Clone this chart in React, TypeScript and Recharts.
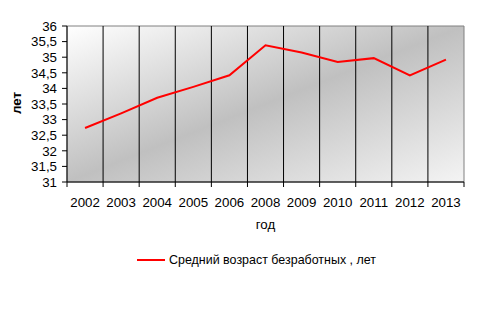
import React from 'react';
import { LineChart, Line, XAxis, YAxis, ReferenceArea, ReferenceLine, Legend } from 'recharts';

// годы (2007 в исходной таблице нет)
const years = ['2002', '2003', '2004', '2005', '2006', '2008', '2009', '2010', '2011', '2012', '2013'];
// средний возраст безработных, лет
const avgAge = [32.73, 33.2, 33.7, 34.05, 34.42, 35.38, 35.15, 34.85, 34.97, 34.42, 34.92];
const yTicks = [31, 31.5, 32, 32.5, 33, 33.5, 34, 34.5, 35, 35.5, 36];
const seriesName = 'Средний возраст безработных , лет';

const FONT = '"Liberation Sans", Arial, sans-serif';

const data = years.map((year, i) => ({ pos: i + 0.5, year, age: avgAge[i] }));
// half steps: integers carry tick marks, halves carry the year labels
const xTicks = Array.from({ length: years.length * 2 + 1 }, (_, i) => i / 2);
const boundaries = Array.from({ length: years.length - 1 }, (_, i) => i + 1);

const XTick = (props: any) => {
    const { x, y, payload } = props;
    const v = payload.value;
    if (Number.isInteger(v)) {
        return <line x1={x} x2={x} y1={y - 5} y2={y} stroke="#000" />;
    }
    return (
        <text x={x} y={y + 20} textAnchor="middle" fontSize={13.3} fontFamily={FONT} fill="#000">
            {years[Math.floor(v)]}
        </text>
    );
};

const YTitle = (props: any) => {
    const { viewBox } = props;
    const cx = viewBox.x + 16;
    const cy = viewBox.y + viewBox.height / 2 - 1;
    return (
        <text x={cx} y={cy} transform={`rotate(-90 ${cx} ${cy})`} textAnchor="middle" dominantBaseline="central"
            fontSize={13.3} fontWeight="bold" fontFamily={FONT} fill="#000">
            лет
        </text>
    );
};

const LegendBox = (props: any) => {
    const item = props.payload && props.payload[0];
    if (!item) return null;
    return (
        <svg width={492} height={30} style={{ display: 'block' }}>
            <line x1={137} x2={165} y1={15} y2={15} stroke={item.color} strokeWidth={2} />
            <text x={169} y={19} fontSize={13.3} fontFamily={FONT} fill="#000"
                textLength={207} lengthAdjust="spacingAndGlyphs">{item.value}</text>
        </svg>
    );
};

export default function App() {
    return (
        <div style={{ position: 'absolute', left: 0, top: 0, width: 492, height: 325, background: '#fff' }}>
            <LineChart width={492} height={325} data={data} margin={{ top: 26, right: 28, bottom: 93, left: 0 }}>
                <defs>
                    <linearGradient id="plotBg" x1="0" y1="0" x2="1" y2="1">
                        <stop offset="0%" stopColor="#ffffff" />
                        <stop offset="50%" stopColor="#c0c0c0" />
                        <stop offset="100%" stopColor="#f4f4f4" />
                    </linearGradient>
                </defs>
                <ReferenceArea x1={0} x2={years.length} y1={31} y2={36} fill="url(#plotBg)" fillOpacity={1}
                    stroke="#808080" strokeWidth={1} />
                {boundaries.map((b) => (
                    <ReferenceLine key={b} x={b} stroke="#000" strokeWidth={1} />
                ))}
                <XAxis type="number" dataKey="pos" domain={[0, years.length]} ticks={xTicks} interval={0}
                    tickSize={5} tickMargin={0} tickLine={false} tick={<XTick />} axisLine={{ stroke: '#000' }}
                    height={50}
                    label={{ value: 'год', position: 'insideBottom', offset: 3, fontSize: 13.3, fontFamily: FONT, fill: '#000' }} />
                <YAxis domain={[31, 36]} ticks={yTicks} interval={0} width={67} tickSize={5} tickMargin={5}
                    tickFormatter={(v: number) => String(v).replace('.', ',')}
                    tick={{ fontSize: 13.3, fontFamily: FONT, fill: '#000' }}
                    axisLine={{ stroke: '#000' }} tickLine={{ stroke: '#000' }}
                    label={<YTitle />} />
                <Legend verticalAlign="middle" align="center" content={<LegendBox />}
                    wrapperStyle={{ top: 245, left: 0, width: 492 }} />
                <Line type="linear" dataKey="age" name={seriesName} stroke="#ff0000" strokeWidth={2}
                    dot={false} isAnimationActive={false} />
            </LineChart>
        </div>
    );
}
